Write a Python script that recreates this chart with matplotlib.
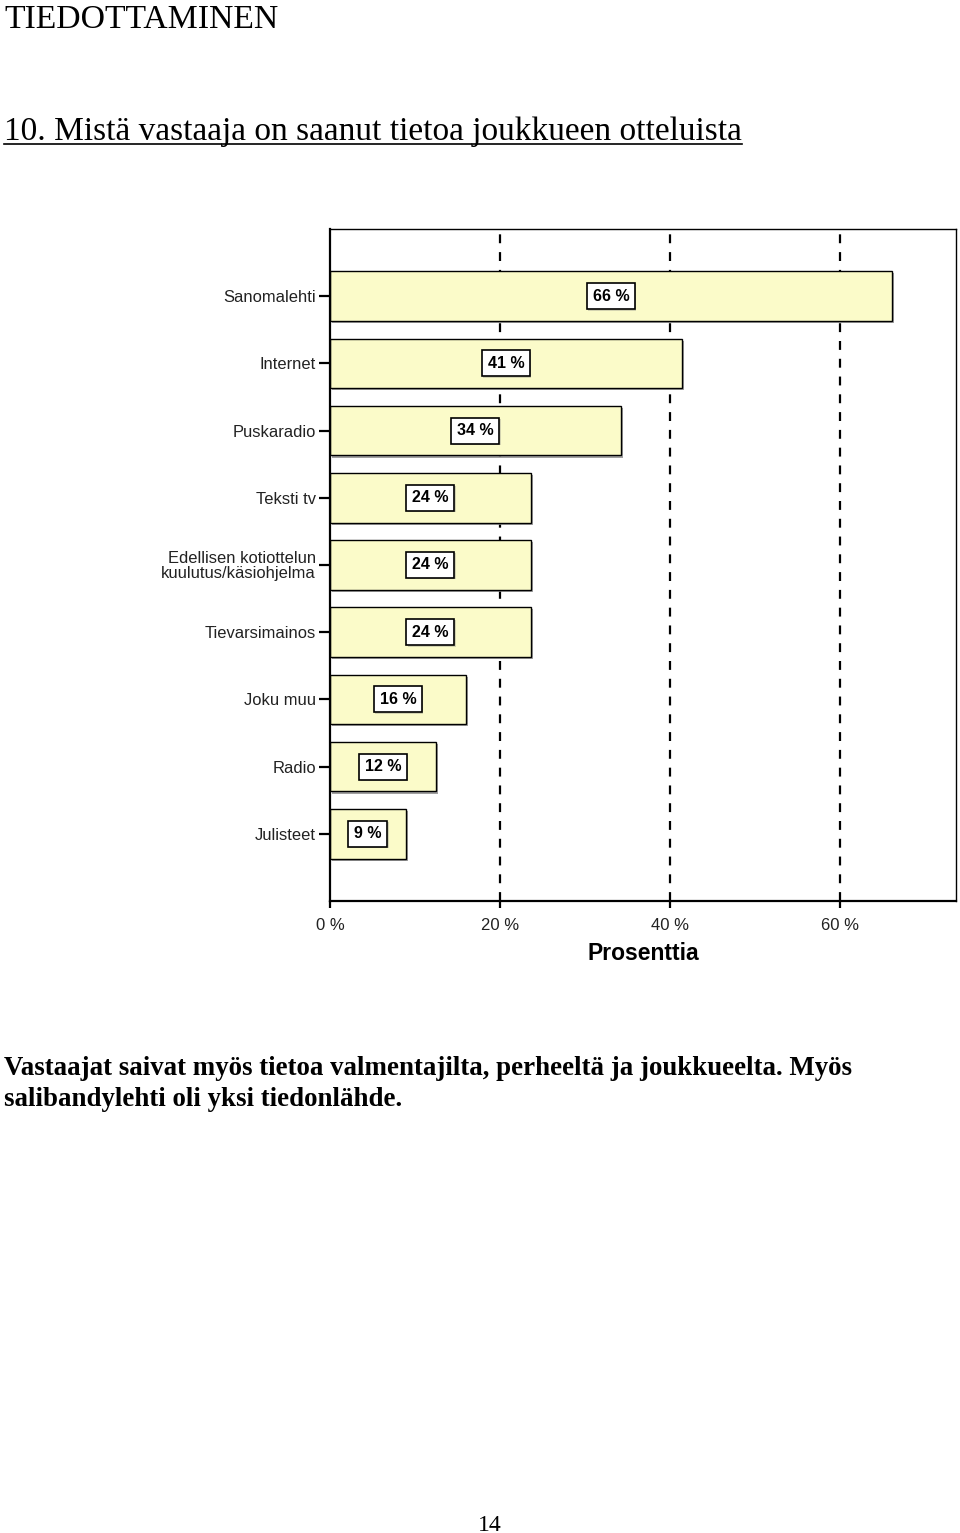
import matplotlib.pyplot as plt
import matplotlib.patheffects as pe
from matplotlib.lines import Line2D

categories = [
    "Sanomalehti",
    "Internet",
    "Puskaradio",
    "Teksti tv",
    "Edellisen kotiottelun\nkuulutus/käsiohjelma",
    "Tievarsimainos",
    "Joku muu",
    "Radio",
    "Julisteet",
]
values = [66.1, 41.4, 34.2, 23.6, 23.6, 23.6, 16.0, 12.5, 8.9]
xticks = [0, 20, 40, 60]
xtick_labels = ["0 %", "20 %", "40 %", "60 %"]

W, H = 960, 1533
fig = plt.figure(figsize=(W / 100, H / 100), dpi=100)


def fx(px):
    return px / W


def fy(py):
    return 1 - py / H


serif = "Liberation Serif"
sans = "Liberation Sans"

fig.text(fx(4), fy(28), "TIEDOTTAMINEN", family=serif, fontsize=24.3,
         va="baseline", ha="left")
title = fig.text(fx(4), fy(140), "10. Mistä vastaaja on saanut tietoa joukkueen otteluista",
                 family=serif, fontsize=24, va="baseline", ha="left")

fig.text(fx(4), fy(1075),
         "Vastaajat saivat myös tietoa valmentajilta, perheeltä ja joukkueelta. Myös",
         family=serif, fontsize=19.4, fontweight="bold", va="baseline", ha="left")
fig.text(fx(4), fy(1106), "salibandylehti oli yksi tiedonlähde.",
         family=serif, fontsize=19.4, fontweight="bold", va="baseline", ha="left")
fig.text(fx(490), fy(1531), "14", family=serif, fontsize=17, va="baseline", ha="center")

# chart
ax = fig.add_axes([fx(330), fy(901), fx(956) - fx(330), fy(229) - fy(901)])
ypos = list(range(len(categories)))
ax.set_xlim(0, 73.65)
ax.set_ylim(len(categories), -1)

for x in xticks[1:]:
    ax.axvline(x, color="black", lw=1.6, ls=(0, (4, 4)), zorder=1)

shadow = [pe.SimplePatchShadow(offset=(1.5, -1.5), shadow_rgbFace="#888888", alpha=0.8),
          pe.Normal()]
bars = ax.barh(ypos, values, height=0.74, color="#fbfbc9", edgecolor="black",
               lw=1.0, zorder=2, path_effects=shadow)

for y, v in zip(ypos, values):
    ax.text(v / 2, y, f"{round(v)} %", ha="center", va="center", family=sans,
            fontsize=11.5, fontweight="bold", zorder=4,
            bbox=dict(boxstyle="square,pad=0.35", fc="white", ec="black", lw=1.2,
                      path_effects=[pe.SimplePatchShadow(offset=(1, -1), shadow_rgbFace="#777777"),
                                    pe.Normal()]))

ax.set_yticks(ypos)
ax.set_yticklabels(categories, family=sans, fontsize=11.9, color="#222222",
                   linespacing=0.95)
ax.set_xticks(xticks)
ax.set_xticklabels(xtick_labels, family=sans, fontsize=12, color="#222222")
ax.tick_params(axis="y", length=8, width=1.6, pad=2)
ax.tick_params(axis="x", length=5, width=1.6, pad=7)
ax.set_xlabel("Prosenttia", family=sans, fontsize=16.5, fontweight="bold", labelpad=7)

for side in ["left", "bottom"]:
    ax.spines[side].set_linewidth(1.6)
for side in ["top", "right"]:
    ax.spines[side].set_linewidth(1.0)

# underline under title
fig.canvas.draw()
bb = title.get_window_extent()
fig.add_artist(Line2D([bb.x0 / W, bb.x1 / W], [fy(144), fy(144)], color="black",
                      lw=1.2, transform=fig.transFigure))

fig.savefig("out.png", dpi=100)
